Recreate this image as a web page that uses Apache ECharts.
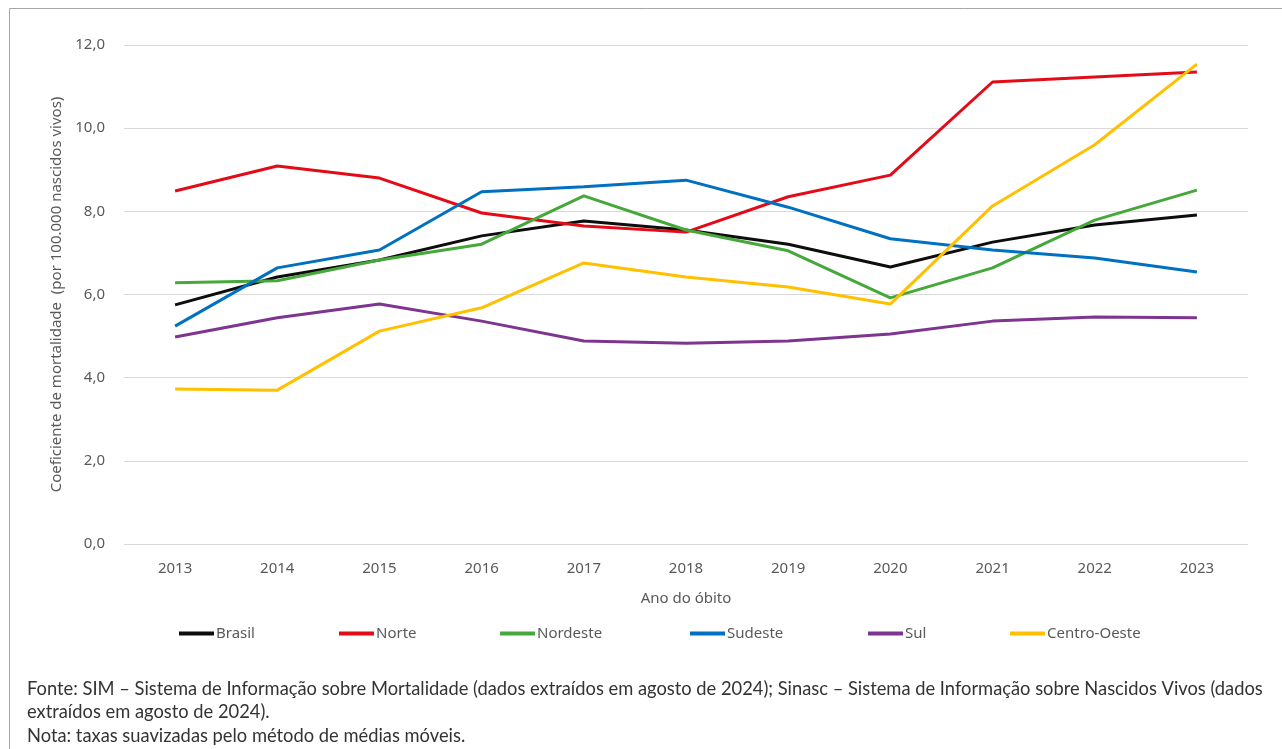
<!DOCTYPE html>
<html>
<head>
<meta charset="utf-8">
<script src="https://cdn.jsdelivr.net/npm/echarts@6/dist/echarts.min.js"></script>
<style>
html,body{margin:0;padding:0;background:#fff;}
#chart{width:1282px;height:749px;}
</style>
</head>
<body>
<div id="chart"></div>
<script>
const years = ['2013','2014','2015','2016','2017','2018','2019','2020','2021','2022','2023'];
const brasil      = [5.75, 6.42, 6.83, 7.41, 7.77, 7.55, 7.21, 6.66, 7.26, 7.67, 7.91];
const norte       = [8.49, 9.09, 8.80, 7.96, 7.65, 7.50, 8.35, 8.87, 11.11, 11.23, 11.35];
const nordeste    = [6.28, 6.33, 6.83, 7.21, 8.37, 7.55, 7.05, 5.92, 6.64, 7.79, 8.51];
const sudeste     = [5.24, 6.64, 7.07, 8.47, 8.59, 8.75, 8.10, 7.34, 7.07, 6.88, 6.54];
const sul         = [4.98, 5.44, 5.77, 5.36, 4.88, 4.83, 4.88, 5.05, 5.36, 5.46, 5.44];
const centroOeste = [3.73, 3.70, 5.12, 5.68, 6.76, 6.42, 6.18, 5.77, 8.13, 9.60, 11.54];

const seriesNames = ['Brasil','Norte','Nordeste','Sudeste','Sul','Centro-Oeste'];
const seriesData = [brasil, norte, nordeste, sudeste, sul, centroOeste];
const colors = ['#0d0d0d','#e30b17','#46a83a','#0070c0','#7e3590','#ffc000'];
const legendLefts = [179, 339, 500, 690, 868, 1010];

const footnotes = [
  'Fonte: SIM – Sistema de Informação sobre Mortalidade (dados extraídos em agosto de 2024); Sinasc – Sistema de Informação sobre Nascidos Vivos (dados',
  'extraídos em agosto de 2024).',
  'Nota: taxas suavizadas pelo método de médias móveis.'
];

// fit footnote font so the first line spans the same width as the reference
const noteFamily = 'Lato';
const ctx = document.createElement('canvas').getContext('2d');
ctx.font = '15px ' + noteFamily;
const w15 = ctx.measureText(footnotes[0]).width;
let noteSize = 15 * 1236 / w15;
if (!isFinite(noteSize) || noteSize > 19) noteSize = 18;

const chart = echarts.init(document.getElementById('chart'), null, {renderer:'canvas'});
const labelFont = 'Noto Sans';
const option = {
  animation: false,
  backgroundColor: '#fff',
  grid: {left: 124, right: 34, top: 45, bottom: 205, containLabel: false},
  xAxis: {
    type: 'category',
    data: years,
    boundaryGap: true,
    axisLine: {show: false},
    axisTick: {show: false},
    axisLabel: {color: '#595959', fontFamily: labelFont, fontSize: 15, margin: 17},
    name: 'Ano do óbito',
    nameLocation: 'middle',
    nameGap: 47,
    nameTextStyle: {color: '#595959', fontFamily: labelFont, fontSize: 15}
  },
  yAxis: {
    type: 'value',
    min: 0, max: 12, interval: 2,
    axisLine: {show: false},
    axisTick: {show: false},
    splitLine: {lineStyle: {color: '#d9d9d9', width: 1}},
    axisLabel: {color: '#595959', fontFamily: labelFont, fontSize: 15, margin: 19,
      formatter: v => v.toFixed(1).replace('.', ',')},
    name: 'Coeficiente de mortalidade  (por 100.000 nascidos vivos)',
    nameLocation: 'middle',
    nameGap: 53,
    nameRotate: 90,
    nameTextStyle: {color: '#595959', fontFamily: labelFont, fontSize: 15}
  },
  legend: seriesNames.map((n, i) => ({
    data: [n],
    left: legendLefts[i],
    top: 626,
    icon: 'rect',
    itemWidth: 35,
    itemHeight: 4,
    itemGap: 0,
    padding: 0,
    textStyle: {color: '#595959', fontFamily: labelFont, fontSize: 15, padding: [0,0,0,-3]}
  })),
  series: seriesNames.map((n, i) => ({
    name: n,
    type: 'line',
    data: seriesData[i],
    symbol: 'none',
    lineStyle: {color: colors[i], width: 3},
    itemStyle: {color: colors[i]},
    z: 2
  })),
  graphic: [
    {type: 'rect', shape: {x: 9.5, y: 8.5, width: 1300, height: 800},
     style: {fill: 'none', stroke: '#a6a6a6', lineWidth: 1}, silent: true},
    ...footnotes.map((t, i) => ({
      type: 'text', left: 27, top: [680, 703, 727][i],
      style: {text: t, fill: '#333333', font: noteSize.toFixed(2) + 'px ' + noteFamily}
    }))
  ]
};
chart.setOption(option);
</script>
</body>
</html>
